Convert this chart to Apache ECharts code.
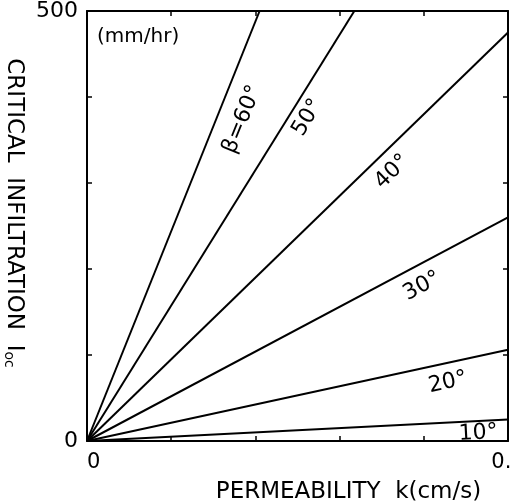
<!DOCTYPE html>
<html>
<head>
<meta charset="utf-8">
<script src="https://cdn.jsdelivr.net/npm/echarts@6/dist/echarts.min.js"></script>
<style>
  html, body { margin: 0; padding: 0; background: #fff; }
  #chart { width: 510px; height: 502px; }
</style>
</head>
<body>
<div id="chart"></div>
<script>
// slope lines from the origin, one per hillslope angle
const betaNames = ["10°", "20°", "30°", "40°", "50°", "β=60°"];
const endK = [0.1, 0.1, 0.1, 0.1, 0.0635, 0.041];   // cm/s at line end
const endI = [25, 106, 260, 475, 500, 500];          // mm/hr at line end
const xTickLabels = { 0: "0", 0.1: "0.1" };
const yTickLabels = { 0: "0", 500: "500" };

// where each line's label sits (data units) and its tilt
const labelAt = [
  [0.0929, 9, 3],
  [0.0857, 68, 12],
  [0.0796, 180, 28],
  [0.0725, 313, 44],
  [0.0524, 376, 59],
  [0.0369, 374, 68],
];

const font = "DejaVu Sans";
const chart = echarts.init(document.getElementById("chart"));

const series = betaNames.map((name, i) => ({
  name: name,
  type: "line",
  data: [[0, 0], [endK[i], endI[i]]],
  showSymbol: false,
  silent: true,
  lineStyle: { color: "#000", width: 2 },
  markPoint: {
    symbol: "circle",
    symbolSize: 1,
    silent: true,
    itemStyle: { color: "rgba(0,0,0,0)" },
    data: [{
      coord: [labelAt[i][0], labelAt[i][1]],
      label: {
        show: true,
        position: "inside",
        formatter: name,
        rotate: labelAt[i][2],
        color: "#000",
        fontSize: 22,
        fontFamily: font,
      },
    }],
  },
}));

function pick(map, v) {
  for (const key in map) {
    if (Math.abs(Number(key) - v) < 1e-9) return map[key];
  }
  return "";
}

const frame = { show: true, onZero: false, lineStyle: { color: "#000", width: 2 } };
const ticks = { show: true, inside: true, length: 5, lineStyle: { color: "#000", width: 1.5 } };

const option = {
  animation: false,
  grid: { left: 87, top: 11, right: 2, bottom: 61, outerBoundsMode: "none", containLabel: false },
  xAxis: [
    {
      type: "value",
      min: 0,
      max: 0.1,
      interval: 0.02,
      axisLine: frame,
      axisTick: ticks,
      splitLine: { show: false },
      axisLabel: {
        color: "#000",
        fontSize: 21,
        fontFamily: font,
        margin: 11,
        alignMinLabel: "left",
        alignMaxLabel: "center",
        formatter: (v) => pick(xTickLabels, v),
      },
      name: "PERMEABILITY  k(cm/s)",
      nameLocation: "middle",
      nameGap: 40,
      nameTextStyle: { color: "#000", fontSize: 23, fontFamily: font, padding: [0, 0, 0, 102] },
    },
    {
      type: "value",
      position: "top",
      min: 0,
      max: 0.1,
      interval: 0.02,
      axisLine: frame,
      axisTick: ticks,
      splitLine: { show: false },
      axisLabel: { show: false },
    },
  ],
  yAxis: [
    {
      type: "value",
      min: 0,
      max: 500,
      interval: 100,
      axisLine: frame,
      axisTick: ticks,
      splitLine: { show: false },
      axisLabel: {
        color: "#000",
        fontSize: 22,
        fontFamily: font,
        margin: 9,
        formatter: (v) => pick(yTickLabels, v),
      },
      name: "{a|CRITICAL  INFILTRATION  I}{s|oc}",
      nameLocation: "middle",
      nameRotate: -90,
      nameGap: 62,
      nameTextStyle: {
        color: "#000",
        fontSize: 23,
        fontFamily: font,
        padding: [0, 26, 0, 0],
        rich: {
          a: { fontSize: 23, fontFamily: font, color: "#000" },
          s: { fontSize: 14, fontFamily: font, color: "#000", verticalAlign: "bottom", padding: [8, 0, 0, 0] },
        },
      },
    },
    {
      type: "value",
      position: "right",
      min: 0,
      max: 500,
      interval: 100,
      axisLine: frame,
      axisTick: ticks,
      splitLine: { show: false },
      axisLabel: { show: false },
    },
  ],
  graphic: [
    {
      type: "text",
      left: 97,
      top: 27,
      style: { text: "(mm/hr)", fill: "#000", fontSize: 20, fontFamily: font },
    },
  ],
  series: series,
};

chart.setOption(option);
</script>
</body>
</html>
